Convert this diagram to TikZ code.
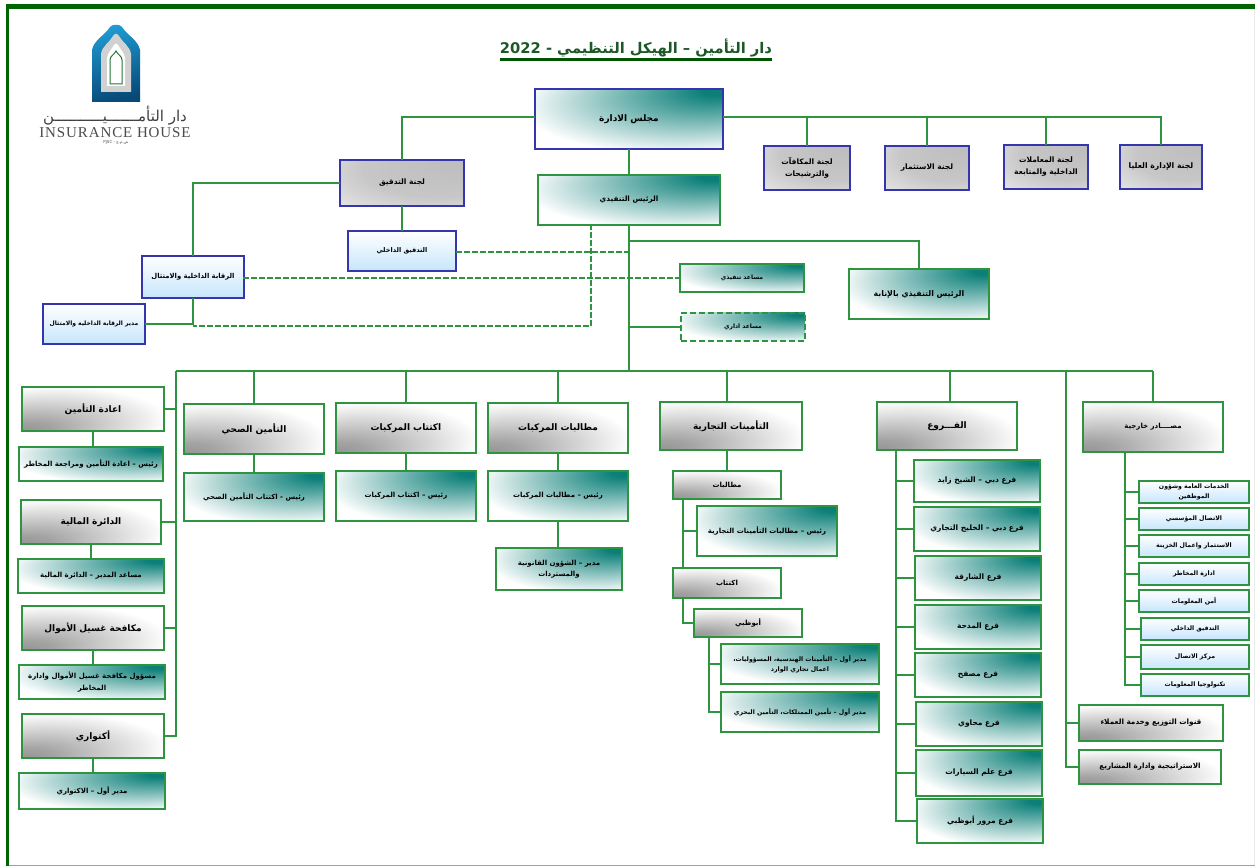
\documentclass[tikz,border=0pt]{standalone}
\usepackage{fontspec}
\TeXXeTstate=1
\newfontfamily\arf[Script=Arabic]{DejaVu Sans}
\setmainfont{Liberation Serif}
\definecolor{cgreen}{HTML}{2E9440}
\definecolor{cblue}{HTML}{3535AE}
\definecolor{cteal}{HTML}{0B7F78}
\definecolor{lblue}{HTML}{C6E6FC}
\definecolor{dgreen}{HTML}{006400}
\definecolor{logotop}{HTML}{1F9AD2}
\definecolor{logobot}{HTML}{074A78}
\pgfdeclareradialshading{tealcorner}{\pgfpoint{25bp}{25bp}}{color(0bp)=(cteal); color(4bp)=(cteal); color(40bp)=(white); color(72bp)=(white)}
\pgfdeclareradialshading{graycorner}{\pgfpoint{25bp}{25bp}}{color(0bp)=(black!26); color(30bp)=(black!22); color(64bp)=(white); color(72bp)=(white)}
\pgfdeclareradialshading{graylow}{\pgfpoint{-25bp}{-25bp}}{color(0bp)=(black!42); color(8bp)=(black!36); color(38bp)=(white); color(72bp)=(white)}
\tikzset{
  base/.style={draw,shade,line width=1.5pt,align=center,inner sep=0pt,outer sep=0pt},
  tealg/.style={base,draw=cgreen,shading=tealcorner},
  tealb/.style={base,draw=cblue,shading=tealcorner},
  grayb/.style={base,draw=cblue,shading=graycorner},
  grayg/.style={base,draw=cgreen,shading=graylow},
  blueb/.style={base,draw=cblue,top color=white,bottom color=lblue},
  bluef/.style={base,draw=cgreen,top color=white,bottom color=lblue},
  txb/.style={font=\arf\bfseries\fontsize{#1}{\dimexpr#1pt*8/5\relax}\selectfont},
  conn/.style={draw=cgreen,line width=1.7pt},
  dashc/.style={conn,dash pattern=on 6pt off 2pt},
}
\newcommand{\AR}[1]{\beginR #1\endR}
% name x1 y1 x2 y2 style text
\newcommand{\bx}[7]{\node[#6,minimum width={2*round((#4-#2)/2)*1pt},minimum height={2*round((#5-#3)/2)*1pt}] (#1) at ({round((#2+#4)/2)},{round((#3+#5)/2)}) {#7};}
\begin{document}
\begin{tikzpicture}[x=1pt,y=-1pt]
\useasboundingbox (0,0) rectangle (1255,866);
\fill[white] (0,0) rectangle (1255,866);
% frame
\draw[black!8,line width=0.8pt] (1254,8) -- (1254,866);
\draw[cgreen!60!black!50,line width=0.8pt] (9,865.5) -- (1255,865.5);
\draw[dgreen,line width=3.2pt] (7.5,866) -- (7.5,6.3);
\draw[dgreen,line width=4.6pt] (5.9,6.3) -- (1255,6.3);
% logo
\shade[bottom color=logobot,top color=logotop,shading angle=15]
  (92,102) -- (92,50) .. controls (94,40) and (104,36) .. (110,27) .. controls (112,24) and (120,24) .. (122,27) .. controls (128,36) and (138,40) .. (140,50) -- (140,102) -- cycle;
\fill[black!18] (101,92) -- (101,54) .. controls (102,46) and (110,42) .. (113,36) .. controls (115,33) and (117,33) .. (119,36) .. controls (122,42) and (130,46) .. (131,54) -- (131,92) -- cycle;
\fill[white] (107,86) -- (107,58) .. controls (108,52) and (112,49) .. (114,45) .. controls (115,43) and (117,43) .. (118,45) .. controls (120,49) and (124,52) .. (125,58) -- (125,86) -- cycle;
\draw[cgreen!80!black,fill=white,line width=1pt] (110,84) -- (110,60) .. controls (110,56) and (114,55) .. (116,51) .. controls (118,55) and (122,56) .. (122,60) -- (122,84) -- cycle;
\node[font=\arf\fontsize{15}{18}\selectfont,text=black!75,inner sep=0pt] (logoar) at (115,116) {\AR{دار التأمـــــــيـــــــــــن}};
\node[font=\fontsize{15}{18}\selectfont,text=black!70,inner sep=0pt] (logoen) at (115,133) {\addfontfeature{LetterSpace=6}INSURANCE HOUSE};
\node[font=\arf\fontsize{4}{5}\selectfont,text=black!70,inner sep=0pt] (logotiny) at (116,143) {PJSC - \AR{ش.م.ع}};
% title
\node[txb=14.7,text=cgreen!60!black,inner sep=0pt] (title) at (636,48) {\AR{دار التأمين – الهيكل التنظيمي - \beginL 2022\endL}};
\draw[dgreen!85!black,line width=2.4pt] (title.base west |- 0,59.5) -- (title.base east |- 0,59.5);
% top
\bx{board}{535}{89}{723}{148}{tealb,txb=9}{\AR{مجلس الادارة}}
\bx{ceo}{538}{175}{719}{224}{tealg,txb=7.3}{\AR{الرئيس التنفيذي}}
\bx{audc}{340}{160}{464}{205}{grayb,txb=7.5}{\AR{لجنة التدقيق}}
\bx{ia}{348}{231}{456}{270}{blueb,txb=6.5}{\AR{التدقيق الداخلي}}
\bx{intc}{142}{256}{243}{297}{blueb,txb=6.8}{\AR{الرقابة الداخلية والامتثال}}
\bx{mgr}{43}{304}{144}{344}{blueb,txb=6}{\AR{مدير الرقابة الداخلية والامتثال}}
\bx{asst}{680}{264}{803}{292.5}{tealg,txb=6}{\AR{مساعد تنفيذي}}
\bx{admin}{681}{313}{805}{341}{tealg,dashed,dash pattern=on 6pt off 3pt,txb=6}{\AR{مساعد اداري}}
\bx{acting}{849}{269}{988}{318}{tealg,txb=7.8}{\AR{الرئيس التنفيذي بالإنابة}}
\bx{rem}{764}{146}{849}{190}{grayb,txb=7.5}{\AR{لجنة المكافآت}\\\AR{والترشيحات}}
\bx{inv}{885}{145.5}{969}{190}{grayb,txb=7.5}{\AR{لجنة الاستثمار}}
\bx{trn}{1004}{145.5}{1088}{189}{grayb,txb=7.5}{\AR{لجنة المعاملات}\\\AR{الداخلية والمتابعة}}
\bx{high}{1119.5}{145.5}{1202}{189}{grayb,txb=7.7}{\AR{لجنة الإدارة العليا}}
% left column
\bx{rein}{22}{387}{163}{431}{grayg,txb=9}{\AR{اعادة التأمين}}
\bx{reinc}{19}{447}{163}{481}{tealg,txb=7}{\AR{رئيس – اعادة التأمين ومراجعة المخاطر}}
\bx{fin}{21}{500}{161}{543}{grayg,txb=9}{\AR{الدائرة المالية}}
\bx{finc}{18}{559}{163}{593}{tealg,txb=7}{\AR{مساعد المدير – الدائرة المالية}}
\bx{aml}{22}{606}{163}{649}{grayg,txb=9}{\AR{مكافحة غسيل الأموال}}
\bx{amlc}{19}{665}{164}{699}{tealg,txb=7}{\AR{مسؤول مكافحة غسيل الأموال وادارة}\\\AR{المخاطر}}
\bx{act}{22}{714}{163}{757}{grayg,txb=9}{\AR{أكتواري}}
\bx{actc}{19}{773}{164}{808}{tealg,txb=7}{\AR{مدير أول – الاكتواري}}
% columns
\bx{hl}{184}{404}{324}{454}{grayg,txb=9}{\AR{التأمين الصحي}}
\bx{hlc}{184}{473}{324}{521}{tealg,txb=7}{\AR{رئيس - اكتتاب التأمين الصحي}}
\bx{mot}{336}{403}{476}{453}{grayg,txb=9}{\AR{اكتتاب المركبات}}
\bx{motc}{336}{471}{476}{520}{tealg,txb=7}{\AR{رئيس – اكتتاب المركبات}}
\bx{mcl}{488}{403}{628}{453}{grayg,txb=9}{\AR{مطالبات المركبات}}
\bx{mclc}{488}{471}{628}{521}{tealg,txb=7}{\AR{رئيس – مطالبات المركبات}}
\bx{leg}{496}{548}{622}{590}{tealg,txb=7}{\AR{مدير – الشؤون القانونية}\\\AR{والمستردات}}
\bx{com}{660}{402}{801}{450}{grayg,txb=9}{\AR{التأمينات التجارية}}
\bx{cl}{673}{471}{780}{498}{grayg,txb=7}{\AR{مطالبات}}
\bx{clc}{697}{506}{836}{555}{tealg,txb=7}{\AR{رئيس – مطالبات التأمينات التجارية}}
\bx{uw}{673}{568}{780}{597}{grayg,txb=7}{\AR{اكتتاب}}
\bx{ad}{694}{609}{802}{637}{grayg,txb=7}{\AR{أبوظبي}}
\bx{eng}{721}{644}{879}{683}{tealg,txb=6.2}{\AR{مدير أول – التأمينات الهندسية، المسؤوليات،}\\\AR{اعمال تجاري الوارد}}
\bx{prop}{721}{692}{879}{731}{tealg,txb=6.2}{\AR{مدير أول – تأمين الممتلكات، التأمين البحري}}
\bx{br}{877}{402}{1017}{450}{grayg,txb=9}{\AR{الفـــروع}}
\bx{bra}{914}{460}{1039}{502}{tealg,txb=7.5}{\AR{فرع دبي – الشيخ زايد}}
\bx{brb}{914}{507}{1039}{551}{tealg,txb=7.5}{\AR{فرع دبي – الخليج التجاري}}
\bx{brc}{915}{556}{1040}{599}{tealg,txb=7.5}{\AR{فرع الشارقة}}
\bx{brd}{915}{605}{1040}{648}{tealg,txb=7.5}{\AR{فرع المدحة}}
\bx{bre}{915}{653}{1040}{696}{tealg,txb=7.5}{\AR{فرع مصفح}}
\bx{brf}{916}{702}{1042}{746}{tealg,txb=7.5}{\AR{فرع محاوي}}
\bx{brg}{916}{750}{1042}{795}{tealg,txb=7.5}{\AR{فرع علم السيارات}}
\bx{brh}{917}{799}{1042}{843}{tealg,txb=7.5}{\AR{فرع مرور أبوظبي}}
\bx{ext}{1083}{402}{1222}{451}{grayg,txb=7}{\AR{مصــــادر خارجية}}
\bx{exa}{1139}{481}{1249}{503}{bluef,txb=6.2}{\AR{الخدمات العامة وشؤون}\\\AR{الموظفين}}
\bx{exb}{1139}{508}{1249}{529}{bluef,txb=6.2}{\AR{الاتصال المؤسسي}}
\bx{exc}{1139}{535}{1249}{556}{bluef,txb=6.2}{\AR{الاستثمار واعمال الخزينة}}
\bx{exd}{1139}{563}{1249}{584}{bluef,txb=6.2}{\AR{ادارة المخاطر}}
\bx{exe}{1139}{590}{1249}{612}{bluef,txb=6.2}{\AR{أمن المعلومات}}
\bx{exf}{1141}{618}{1249}{640}{bluef,txb=6.2}{\AR{التدقيق الداخلي}}
\bx{exg}{1141}{645}{1249}{668}{bluef,txb=6.2}{\AR{مركز الاتصال}}
\bx{exh}{1141}{674}{1249}{695}{bluef,txb=6.2}{\AR{تكنولوجيا المعلومات}}
\bx{chn}{1079}{705}{1222}{740}{grayg,txb=7.3}{\AR{قنوات التوزيع وخدمة العملاء}}
\bx{str}{1079}{750}{1221}{784}{grayg,txb=7.2}{\AR{الاستراتيجية وادارة المشاريع}}
% junctions
\coordinate (bdL) at (535,117);
\coordinate (bdR) at (723,117);
\coordinate (j1) at (629,241);
\coordinate (busL) at (176,371);
\coordinate (busR) at (1153,371);
\coordinate (iaR) at (456,252);
\coordinate (iaT) at (629,252);
\coordinate (icR) at (243,278);
\coordinate (ceoD) at (591,224);
\coordinate (dB) at (591,326);
\coordinate (dL) at (193,326);
\coordinate (busX) at (1066,371);
\coordinate (comX) at (727,371);
\coordinate (brX) at (950,371);
\coordinate (clX) at (683,498);
\coordinate (adX) at (709,637);
\coordinate (brT) at (896,450);
\coordinate (exT) at (1125,451);
% connectors
\draw[conn] (bdL) -| (audc.north);
\draw[conn] (bdR) -| (high.north);
\draw[conn] (rem.north) -- (rem.north |- bdR);
\draw[conn] (inv.north) -- (inv.north |- bdR);
\draw[conn] (trn.north) -- (trn.north |- bdR);
\draw[conn] (board.south -| ceo.south) -- (ceo.north);
\draw[conn] (audc.west) -| (intc.north);
\draw[conn] (audc.south) -- (ia.north);
\draw[conn] (intc.south) |- (mgr.east);
\draw[dashc] (iaR) -- (iaT);
\draw[dashc] (icR) -- (asst.west);
\draw[dashc] (ceoD) -- (dB) -- (dL);
\draw[conn] (ceo.south) -- (ceo.south |- busL);
\draw[conn] (j1) -| (acting.north);
\draw[conn] (admin.west) -- (admin.west -| ceo.south);
\draw[conn] (busL) -- (busR);
\draw[conn] (busL) |- (act.east);
\draw[conn] (rein.east) -- (rein.east -| busL);
\draw[conn] (fin.east) -- (fin.east -| busL);
\draw[conn] (aml.east) -- (aml.east -| busL);
\draw[conn] (rein.south) -- (rein.south |- reinc.north);
\draw[conn] (fin.south) -- (fin.south |- finc.north);
\draw[conn] (aml.south) -- (aml.south |- amlc.north);
\draw[conn] (act.south) -- (act.south |- actc.north);
\draw[conn] (hl.north) -- (hl.north |- busL);
\draw[conn] (hl.south) -- (hlc.north);
\draw[conn] (mot.north) -- (mot.north |- busL);
\draw[conn] (mot.south) -- (motc.north);
\draw[conn] (mcl.north) -- (mcl.north |- busL);
\draw[conn] (mcl.south) -- (mclc.north);
\draw[conn] (mclc.south) -- (mclc.south |- leg.north);
\draw[conn] (comX) -- (comX |- com.north);
\draw[conn] (comX |- com.south) -- (cl.north);
\draw[conn] (clX) -- (clX |- uw.north);
\draw[conn] (clX |- clc.west) -- (clc.west);
\draw[conn] (clX |- uw.south) |- (ad.west);
\draw[conn] (adX) |- (prop.west);
\draw[conn] (adX |- eng.west) -- (eng.west);
\draw[conn] (brX) -- (brX |- br.north);
\draw[conn] (brT) |- (brh.west);
\foreach \n in {bra,brb,brc,brd,bre,brf,brg} \draw[conn] (brT |- \n.west) -- (\n.west);
\draw[conn] (busR) -- (ext.north -| busR);
\draw[conn] (exT) |- (exh.west);
\foreach \n in {exa,exb,exc,exd,exe,exf,exg} \draw[conn] (exT |- \n.west) -- (\n.west);
\draw[conn] (busX) |- (str.west);
\draw[conn] (busX |- chn.west) -- (chn.west);
\end{tikzpicture}
\end{document}
